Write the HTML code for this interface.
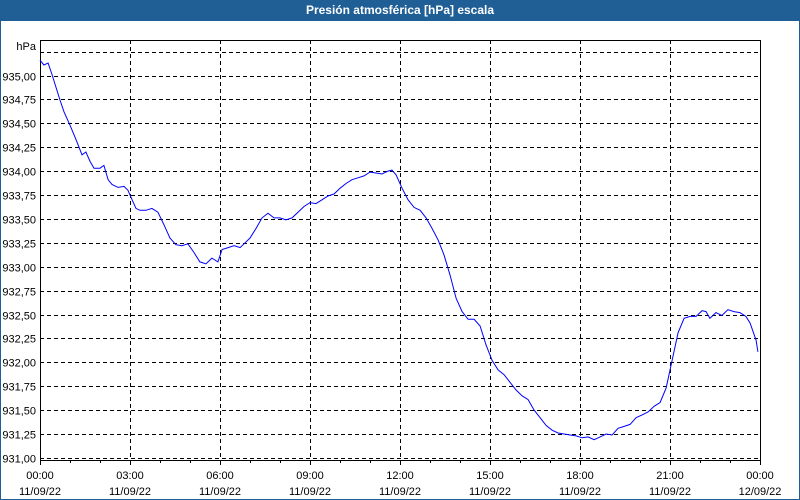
<!DOCTYPE html>
<html><head><meta charset="utf-8"><style>
body{margin:0;background:#fff;font-family:"Liberation Sans","DejaVu Sans",sans-serif}
#frame{position:absolute;left:0;top:0;width:798px;height:498px;border:1px solid #1f5f96;background:#fff}
#title{position:absolute;left:0;top:0;width:800px;height:21px;background:#1f5f96;color:#fff;font-weight:bold;font-size:12px;text-align:center;line-height:21px}
</style></head><body>
<div id="frame"></div>
<div id="title">Presión atmosférica [hPa] escala</div>
<svg id="chart" width="800" height="500" style="position:absolute;left:0;top:0"></svg>
<script>
const hours=[0,0.13,0.27,0.4,0.53,0.67,0.8,1,1.2,1.4,1.53,1.67,1.8,2,2.13,2.27,2.4,2.6,2.8,2.93,3.07,3.2,3.33,3.53,3.73,3.93,4.13,4.33,4.53,4.73,4.93,5.13,5.33,5.53,5.73,5.93,6.07,6.27,6.47,6.67,6.8,7,7.2,7.4,7.6,7.8,8,8.2,8.4,8.6,8.8,9,9.2,9.4,9.6,9.8,10,10.2,10.4,10.6,10.8,11,11.2,11.4,11.6,11.73,11.87,12.07,12.27,12.47,12.67,12.87,13.07,13.27,13.47,13.67,13.87,14.07,14.27,14.47,14.67,14.87,15.07,15.27,15.47,15.67,15.87,16.07,16.27,16.47,16.67,16.87,17.07,17.27,17.47,17.67,17.87,18.07,18.27,18.47,18.67,18.87,19.07,19.27,19.47,19.67,19.87,20.07,20.27,20.47,20.67,20.87,21.07,21.27,21.47,21.67,21.87,22.07,22.2,22.33,22.53,22.73,22.93,23.13,23.33,23.53,23.67,23.87,23.93];
const pressure=[935.16,935.11,935.13,935.01,934.88,934.74,934.62,934.48,934.33,934.17,934.20,934.10,934.03,934.03,934.06,933.91,933.86,933.83,933.84,933.80,933.70,933.61,933.59,933.59,933.61,933.57,933.44,933.30,933.23,933.22,933.24,933.15,933.05,933.03,933.09,933.05,933.18,933.20,933.22,933.20,933.24,933.30,933.40,933.51,933.56,933.51,933.51,933.49,933.51,933.57,933.63,933.67,933.66,933.70,933.74,933.76,933.82,933.87,933.91,933.93,933.95,933.99,933.98,933.97,934.00,934.01,933.96,933.82,933.70,933.62,933.59,933.51,933.40,933.28,933.12,932.91,932.67,932.53,932.45,932.45,932.38,932.18,932.02,931.92,931.87,931.79,931.71,931.65,931.61,931.50,931.42,931.34,931.29,931.26,931.25,931.24,931.23,931.21,931.22,931.19,931.22,931.25,931.24,931.31,931.33,931.35,931.42,931.45,931.48,931.54,931.58,931.73,932.02,932.31,932.46,932.48,932.48,932.54,932.53,932.46,932.52,932.49,932.55,932.53,932.52,932.48,932.41,932.23,932.11];
const yTicks=[931,931.25,931.5,931.75,932,932.25,932.5,932.75,933,933.25,933.5,933.75,934,934.25,934.5,934.75,935,935.25];
const xTickTimes=["00:00","03:00","06:00","09:00","12:00","15:00","18:00","21:00","00:00"];
const xTickDates=["11/09/22","11/09/22","11/09/22","11/09/22","11/09/22","11/09/22","11/09/22","11/09/22","12/09/22"];
const L=40,R=760,T=40,B=460;
const xs=h=>L+h*(R-L)/24;
const ys=v=>75.5+(935-v)*95.6;
const svg=document.getElementById('chart');const NS='http://www.w3.org/2000/svg';
function mk(t,a,p){const e=document.createElementNS(NS,t);for(const k in a)e.setAttribute(k,a[k]);(p||svg).appendChild(e);return e;}
yTicks.forEach((v,i)=>{const y=Math.round(ys(v))+0.5;
 const g=mk('line',{x1:L,x2:R,y1:y,y2:y,stroke:'#000','stroke-dasharray':'4,3'});
 
 
 if(v<935.2){const t=mk('text',{x:36,y:y+4,'text-anchor':'end','font-size':'11',fill:'#000'});t.textContent=v.toFixed(2).replace('.',',');
 
 }
});
const u=mk('text',{x:36,y:50,'text-anchor':'end','font-size':'11',fill:'#000'});u.textContent='hPa';


for(let h=0;h<=24;h++){const x=Math.round(xs(h))+0.5;
 if(h%3===0&&h>0&&h<24){const g=mk('line',{x1:x,x2:x,y1:T,y2:B,stroke:'#000','stroke-dasharray':'4,3'});
 
 }
 const tk=mk('line',{x1:x,x2:x,y1:B,y2:B+(h%3===0?5:3),stroke:'#000'});
 
 }
xTickTimes.forEach((s,i)=>{const x=xs(i*3);
 const t=mk('text',{x:x,y:479,'text-anchor':'middle','font-size':'11',fill:'#000'});t.textContent=s;
 
 
 const d=mk('text',{x:x,y:495,'text-anchor':'middle','font-size':'11',fill:'#000'});d.textContent=xTickDates[i];
 
 });
const box=mk('rect',{x:L+0.5,y:T+0.5,width:R-L,height:B-T,fill:'none',stroke:'#000'});


const pts=hours.map((h,i)=>xs(h).toFixed(1)+','+ys(pressure[i]).toFixed(1)).join(' ');
const line=mk('polyline',{points:pts,fill:'none',stroke:'#0000ff','stroke-width':'1'});


</script>
</body></html>
